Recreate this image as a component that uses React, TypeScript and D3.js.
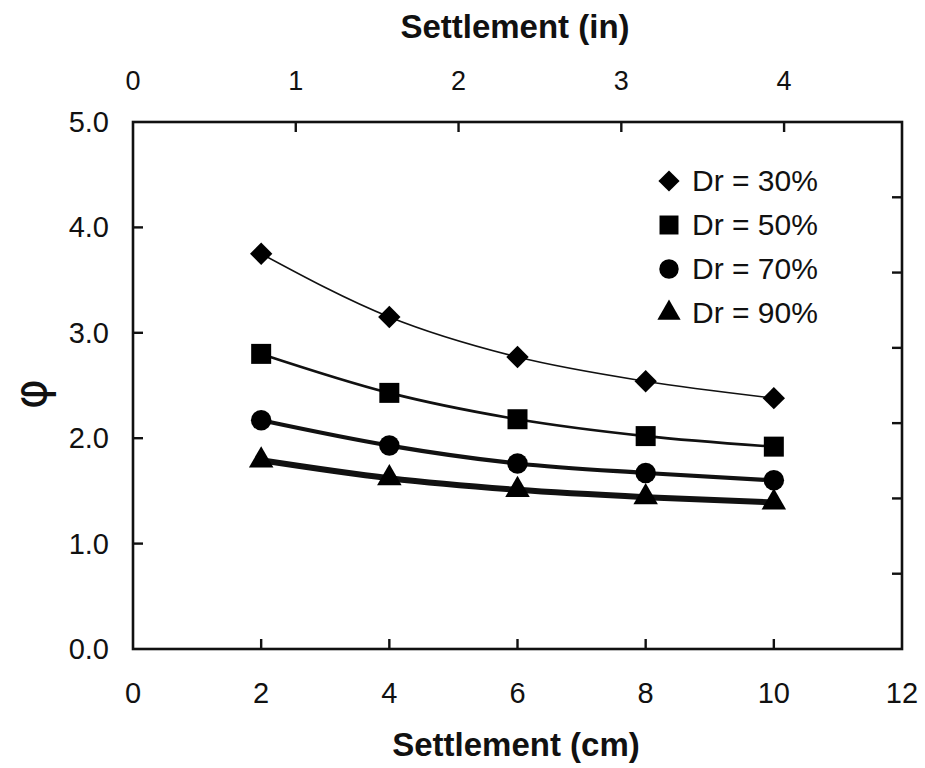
import { useEffect, useRef } from 'react'
import * as d3 from 'd3'

const SETTLEMENT_CM = [2, 4, 6, 8, 10]
const DR30 = [3.75, 3.15, 2.77, 2.54, 2.38]
const DR50 = [2.80, 2.43, 2.18, 2.02, 1.92]
const DR70 = [2.17, 1.93, 1.76, 1.67, 1.60]
const DR90 = [1.79, 1.62, 1.51, 1.44, 1.39]

const X_TICKS = [0, 2, 4, 6, 8, 10, 12]
const Y_TICKS = [0, 1, 2, 3, 4, 5]
const IN_TICKS = [0, 1, 2, 3, 4]
const RIGHT_TICKS = [1, 2, 3, 4, 5, 6]

const SERIES = [
  { label: 'Dr = 30%', values: DR30, symbol: d3.symbolSquare, rot: 45, size: 250, width: 1.6 },
  { label: 'Dr = 50%', values: DR50, symbol: d3.symbolSquare, rot: 0, size: 400, width: 2.6 },
  { label: 'Dr = 70%', values: DR70, symbol: d3.symbolCircle, rot: 0, size: 330, width: 4.2 },
  { label: 'Dr = 90%', values: DR90, symbol: d3.symbolTriangle, rot: 0, size: 260, width: 6 },
]

const FONT = '"Liberation Sans", Arial, Helvetica, sans-serif'

export default function App() {
  const svgRef = useRef<SVGSVGElement>(null)

  useEffect(() => {
    if (!svgRef.current) return
    const W = 925, H = 768
    const left = 133, right = 902, top = 122, bottom = 649
    const TICK = 10

    const svg = d3.select(svgRef.current)
    svg.selectAll('*').remove()
    svg.attr('width', W).attr('height', H)

    const x = d3.scaleLinear().domain([0, 12]).range([left, right])
    const xin = d3.scaleLinear().domain([0, 12 / 2.54]).range([left, right])
    const y = d3.scaleLinear().domain([0, 5]).range([bottom, top])
    const yr = d3.scaleLinear().domain([0, 7]).range([bottom, top])

    const g = svg.append('g').attr('font-family', FONT).attr('fill', '#111')

    // frame
    g.append('rect')
      .attr('x', left).attr('y', top)
      .attr('width', right - left).attr('height', bottom - top)
      .attr('fill', 'none').attr('stroke', '#111').attr('stroke-width', 2.6)

    // inward ticks
    const tk = g.append('g').attr('stroke', '#111').attr('stroke-width', 2.4)
    X_TICKS.slice(1, -1).forEach(t => {
      tk.append('line').attr('x1', x(t)).attr('x2', x(t)).attr('y1', bottom).attr('y2', bottom - TICK)
    })
    IN_TICKS.slice(1).forEach(t => {
      tk.append('line').attr('x1', xin(t)).attr('x2', xin(t)).attr('y1', top).attr('y2', top + TICK)
    })
    Y_TICKS.slice(1, -1).forEach(t => {
      tk.append('line').attr('x1', left).attr('x2', left + TICK).attr('y1', y(t)).attr('y2', y(t))
    })
    RIGHT_TICKS.forEach(t => {
      tk.append('line').attr('x1', right).attr('x2', right - TICK).attr('y1', yr(t)).attr('y2', yr(t))
    })

    // tick labels
    g.selectAll('.xl').data(X_TICKS).enter().append('text')
      .attr('x', d => x(d)).attr('y', 703)
      .attr('text-anchor', 'middle').attr('font-size', 29)
      .text(d => d)
    g.selectAll('.il').data(IN_TICKS).enter().append('text')
      .attr('x', d => xin(d)).attr('y', 90)
      .attr('text-anchor', 'middle').attr('font-size', 27)
      .text(d => d)
    g.selectAll('.yl').data(Y_TICKS).enter().append('text')
      .attr('x', 109).attr('y', d => y(d) + 10)
      .attr('text-anchor', 'end').attr('font-size', 29)
      .text(d => d.toFixed(1))

    // axis titles
    g.append('text').attr('x', 516).attr('y', 756)
      .attr('text-anchor', 'middle').attr('font-size', 33).attr('font-weight', 'bold')
      .text('Settlement (cm)')
    g.append('text').attr('x', 515).attr('y', 38)
      .attr('text-anchor', 'middle').attr('font-size', 33).attr('font-weight', 'bold')
      .text('Settlement (in)')
    g.append('text')
      .attr('transform', 'translate(46,394) rotate(-90)')
      .attr('text-anchor', 'middle').attr('font-size', 46)
      .attr('font-family', '"DejaVu Sans", sans-serif')
      .text('φ')

    // curves + markers
    const line = d3.line<number>()
      .x((_, i) => x(SETTLEMENT_CM[i]))
      .y(d => y(d))
      .curve(d3.curveMonotoneX)

    SERIES.forEach(s => {
      g.append('path')
        .attr('d', line(s.values))
        .attr('fill', 'none').attr('stroke', '#111').attr('stroke-width', s.width)
      const sym = d3.symbol().type(s.symbol).size(s.size)
      g.selectAll(null).data(s.values).enter().append('path')
        .attr('d', sym())
        .attr('transform', (d, i) => `translate(${x(SETTLEMENT_CM[i])},${y(d)}) rotate(${s.rot})`)
        .attr('fill', '#000')
    })

    // legend
    const lg = g.append('g')
    SERIES.forEach((s, i) => {
      const cy = 181 + i * 44
      const sym = d3.symbol().type(s.symbol).size(s.size * 0.9)
      lg.append('path').attr('d', sym()).attr('transform', `translate(669,${cy}) rotate(${s.rot})`).attr('fill', '#000')
      lg.append('text').attr('x', 692).attr('y', cy + 10).attr('font-size', 30).text(s.label)
    })
  }, [])

  return (
    <div style={{ position: 'absolute', left: 0, top: 0, background: '#fff' }}>
      <svg ref={svgRef} style={{ display: 'block' }} />
    </div>
  )
}
